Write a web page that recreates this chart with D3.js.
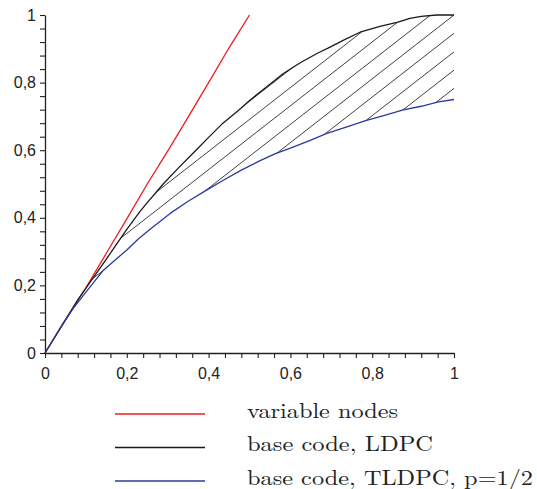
<!DOCTYPE html>
<html>
<head>
<meta charset="utf-8">
<script src="https://cdn.jsdelivr.net/npm/d3@7"></script>
<style>
  html, body { margin: 0; padding: 0; background: #fff; }
  svg { display: block; }
</style>
</head>
<body>
<svg id="chart" width="537" height="489"></svg>
<script>
// EXIT-style curves: variable nodes vs. two base codes
const variableNodes = [
  [0, 0], [0.05, 0.097], [0.1, 0.193], [0.15, 0.295], [0.2, 0.397], [0.25, 0.5],
  [0.3, 0.597], [0.35, 0.698], [0.4, 0.8], [0.45, 0.903], [0.5, 1.0]
];
const baseLDPC = [
  [0, 0], [0.04, 0.079], [0.08, 0.157], [0.122, 0.23], [0.15, 0.278], [0.175, 0.322],
  [0.2, 0.366], [0.232, 0.418], [0.25, 0.445], [0.289, 0.5], [0.33, 0.552], [0.371, 0.602],
  [0.4, 0.638], [0.435, 0.68], [0.472, 0.717], [0.501, 0.748], [0.526, 0.772],
  [0.55, 0.795], [0.582, 0.826], [0.623, 0.858], [0.665, 0.886], [0.697, 0.905],
  [0.729, 0.925], [0.77, 0.949], [0.819, 0.966], [0.863, 0.979], [0.892, 0.99],
  [0.92, 0.996], [0.958, 1.0], [1, 1.0]
];
const baseTLDPC = [
  [0, 0], [0.045, 0.089], [0.069, 0.132], [0.1, 0.18], [0.143, 0.245], [0.2, 0.305],
  [0.228, 0.337], [0.257, 0.366], [0.306, 0.413], [0.35, 0.449], [0.395, 0.482],
  [0.436, 0.511], [0.48, 0.541], [0.526, 0.569], [0.562, 0.589], [0.6, 0.606],
  [0.65, 0.63], [0.689, 0.65], [0.74, 0.67], [0.782, 0.687], [0.83, 0.703],
  [0.876, 0.719], [0.92, 0.73], [0.962, 0.743], [1, 0.75]
];
// hatching between the two base-code curves: y = offset + slope * (x - 1)
const hatchSlope = 0.944;
const hatchOffsets = [0.783, 0.837, 0.891, 0.946, 1.0, 1.054, 1.109, 1.163, 1.217];

const tickValues = [0, 0.2, 0.4, 0.6, 0.8, 1];
const tickLabels = ["0", "0,2", "0,4", "0,6", "0,8", "1"];
const minorStep = 0.04;

const legendLabels = ["variable nodes", "base code, LDPC", "base code, TLDPC, p=1/2"];
const legendWidths = [151, 186, 286];
const seriesColors = ["#ee1c1c", "#1a1a1a", "#2b3a9e"];

const svg = d3.select("#chart");
const x = d3.scaleLinear().domain([0, 1]).range([45, 454]);
const y = d3.scaleLinear().domain([0, 1]).range([353, 15]);

const line = d3.line().x(d => x(d[0])).y(d => y(d[1]));

// clip region between LDPC (top) and TLDPC (bottom)
const region = baseLDPC.concat(baseTLDPC.slice().reverse());
svg.append("clipPath").attr("id", "hatch-clip")
  .append("path").attr("d", line(region) + "Z");

svg.append("g").attr("clip-path", "url(#hatch-clip)")
  .selectAll("line").data(hatchOffsets).join("line")
  .attr("x1", x(0)).attr("y1", c => y(c - hatchSlope))
  .attr("x2", x(1)).attr("y2", c => y(c))
  .attr("stroke", "#2a2a2a").attr("stroke-width", 0.9);

// axes with minor ticks
const minorTicks = d3.range(0, 1 + 1e-9, minorStep).map(v => +v.toFixed(2));
const labelFor = v => {
  const i = tickValues.findIndex(t => Math.abs(t - v) < 1e-6);
  return i >= 0 ? tickLabels[i] : "";
};
const axisFont = "'Liberation Sans', Arial, Helvetica, sans-serif";

const gx = svg.append("g").attr("transform", `translate(0,${y(0)})`)
  .call(d3.axisBottom(x).tickValues(minorTicks).tickFormat(labelFor)
    .tickSize(5).tickSizeOuter(0).tickPadding(10));
const gy = svg.append("g").attr("transform", `translate(${x(0)},0)`)
  .call(d3.axisLeft(y).tickValues(minorTicks).tickFormat(labelFor)
    .tickSize(5).tickSizeOuter(0).tickPadding(4));
[gx, gy].forEach(g => {
  g.select(".domain").attr("stroke", "#222").attr("stroke-width", 1.3);
  g.selectAll(".tick line").attr("stroke", "#222").attr("stroke-width", 1.1);
  g.selectAll(".tick text").attr("fill", "#222")
    .style("font-family", axisFont).style("font-size", "16px");
});

// curves
const series = [variableNodes, baseLDPC, baseTLDPC];
svg.append("g").selectAll("path").data(series).join("path")
  .attr("d", line)
  .attr("fill", "none")
  .attr("stroke", (d, i) => seriesColors[i])
  .attr("stroke-width", 1.3)
  .attr("stroke-linejoin", "round");

// legend
const legend = svg.append("g");
const rows = legend.selectAll("g").data(legendLabels).join("g")
  .attr("transform", (d, i) => `translate(0,${414 + i * 33.5})`);
rows.append("line")
  .attr("x1", 115).attr("x2", 205).attr("y1", 0).attr("y2", 0)
  .attr("stroke", (d, i) => seriesColors[i]).attr("stroke-width", 1.3);
rows.append("text")
  .attr("x", 247).attr("y", 3.5)
  .attr("textLength", (d, i) => legendWidths[i])
  .attr("lengthAdjust", "spacingAndGlyphs")
  .style("font-family", "'Latin Modern Roman', 'CMU Serif', 'Liberation Serif', 'Times New Roman', serif")
  .style("font-size", "21px")
  .attr("fill", "#222")
  .text(d => d);
</script>
</body>
</html>
